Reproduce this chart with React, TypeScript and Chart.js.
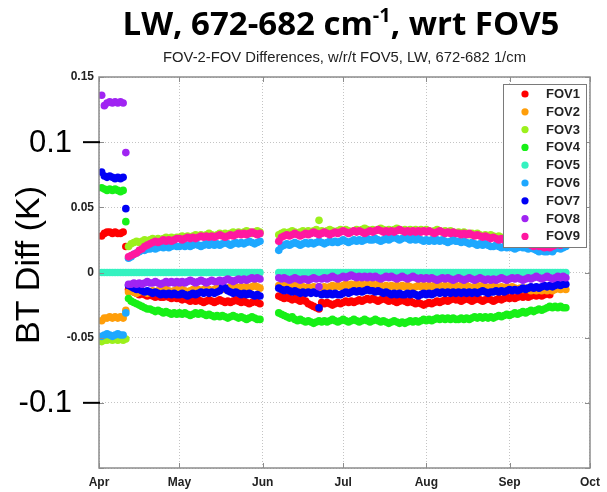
import React, { useEffect, useRef } from "react";
import { Chart, registerables } from "chart.js";

Chart.register(...registerables);

const WIDTH = 607;
const HEIGHT = 492;

// Daily samples, counted in days since 1 April: three contiguous runs, with an outage around 1 June.
const RUN_STARTS = [1, 11, 67];
const RUN_LENGTHS = [10, 50, 108];

const MONTH_TICKS = [0, 30, 61, 91, 122, 153, 183];
const MONTH_LABELS = ["Apr", "May", "Jun", "Jul", "Aug", "Sep", "Oct"];

const Y_TICKS = [-0.15, -0.1, -0.05, 0, 0.05, 0.1, 0.15];
const Y_TICK_LABELS = ["", "", "-0.05", "0", "0.05", "", "0.15"];
const BIG_Y_TICKS = [0.1, -0.1];
const BIG_Y_LABELS = ["0.1", "-0.1"];

const FOV_NAMES = ["FOV1", "FOV2", "FOV3", "FOV4", "FOV5", "FOV6", "FOV7", "FOV8", "FOV9"];
const FOV_COLORS = [
  "#ff0000",
  "#ff9e0a",
  "#9cf01c",
  "#17f017",
  "#35f2c0",
  "#1ea8ff",
  "#0000f5",
  "#a024f2",
  "#ff18a0",
];

// Brightness-temperature differences relative to FOV5, in mK (one value per sample day).
const FOV1_MK = [
  28, 30, 31, 31, 30, 31, 30, 30, 31, 20,
  -13, -14, -15, -16, -17, -16, -17, -18, -17, -18, -19, -18, -19, -19, -18, -19, -20, -19, -20, -20,
  -21, -20, -21, -22, -21, -22, -21, -22, -23, -22, -21, -22, -23, -22, -21, -22, -23, -22, -23, -22,
  -21, -22, -23, -22, -23, -24, -23, -22, -23, -24,
  -18, -19, -20, -19, -20, -21, -20, -21, -22, -21, -22, -24, -25, -26, -27, -28, -23, -24, -23, -24,
  -25, -24, -23, -24, -23, -22, -23, -22, -23, -22, -21, -22, -21, -20, -21, -20, -21, -22, -21, -20,
  -21, -22, -21, -22, -23, -22, -21, -22, -23, -22, -23, -24, -23, -24, -25, -24, -23, -24, -23, -22,
  -23, -22, -21, -22, -21, -20, -21, -21, -22, -21, -20, -21, -22, -21, -20, -21, -22, -21, -20, -21,
  -22, -21, -20, -21, -20, -19, -20, -19, -20, -19, -18, -19, -18, -19, -18, -17, -18, -17, -18, -17,
  -16, -17, null, null, null, null, null, null,
];

const FOV2_MK = [
  -37, -35, -35, -34, -35, -34, -35, -34, -35, -29,
  -15, -14, -15, -16, -15, -14, -15, -16, -15, -14, -15, -14, -15, -14, -13, -14, -15, -14, -13, -14,
  -13, -14, -15, -14, -13, -14, -13, -14, -13, -12, -13, -14, -13, -12, -13, -12, -13, -12, -11, -12,
  -11, -12, -11, -12, -11, -12, -11, -10, -11, -12,
  -10, -11, -10, -11, -12, -11, -10, -11, -12, -11, -12, -11, -12, -11, -12, -11, -12, -11, -12, -11,
  -10, -11, -10, -11, -10, -9, -10, -9, -10, -9, -10, -9, -10, -9, -10, -9, -10, -9, -10, -11,
  -10, -11, -10, -11, -10, -11, -10, -11, -10, -11, -12, -11, -10, -11, -10, -11, -10, -11, -10, -11,
  -10, -11, -10, -11, -10, -11, -10, -11, -10, -11, -10, -11, -12, -11, -10, -11, -10, -11, -12, -11,
  -10, -11, -12, -11, -12, -11, -12, -11, -12, -13, -12, -13, -12, -13, -14, -13, -14, -13, -14, -13,
  -14, -13, -14, -13, -12, -13, -12, -13,
];

const FOV3_MK = [
  -53, -52, -52, -51, -52, -51, -52, -51, -52, -51,
  20, 22, 23, 24, 23, 24, 25, 24, 25, 26, 25, 26, 25, 26, 27, 26, 27, 26, 27, 27,
  28, 27, 28, 27, 28, 29, 28, 29, 28, 29, 30, 29, 28, 29, 30, 29, 30, 29, 30, 31,
  30, 31, 30, 31, 32, 31, 30, 31, 32, 31,
  29, 30, 31, 30, 31, 32, 31, 30, 31, 32, 31, 32, 31, 32, 33, 40, 32, 31, 32, 33,
  32, 31, 32, 33, 32, 33, 32, 31, 32, 33, 32, 33, 34, 33, 32, 33, 32, 33, 34, 33,
  32, 33, 32, 33, 34, 33, 32, 33, 32, 33, 32, 33, 32, 33, 32, 33, 32, 31, 32, 33,
  32, 31, 32, 31, 32, 31, 30, 31, 30, 31, 30, 29, 30, 29, 30, 29, 28, 29, 28, 29,
  28, 27, 28, 27, 26, 27, 26, 25, 26, 25, 24, 25, 24, 23, 24, 23, 22, 23, 22, 21,
  22, 21, 22, 23, 22, 23, 22, 23,
];

const FOV4_MK = [
  65, 64, 63, 64, 63, 64, 63, 62, 63, 39,
  -20, -22, -23, -24, -25, -26, -27, -28, -28, -29, -30, -29, -30, -31, -30, -31, -32, -31, -32, -31,
  -32, -31, -32, -33, -32, -31, -32, -31, -32, -33, -32, -33, -34, -33, -34, -33, -34, -35, -34, -33,
  -34, -35, -34, -35, -36, -35, -34, -35, -36, -36,
  -31, -32, -33, -34, -35, -34, -36, -37, -36, -37, -38, -37, -38, -39, -38, -37, -38, -37, -38, -37,
  -36, -37, -38, -37, -36, -37, -38, -37, -36, -37, -38, -37, -36, -37, -38, -37, -36, -37, -38, -37,
  -38, -39, -38, -37, -38, -39, -38, -39, -38, -37, -38, -37, -38, -37, -36, -37, -36, -37, -36, -35,
  -36, -35, -36, -35, -36, -35, -36, -36, -35, -36, -35, -36, -35, -34, -35, -34, -35, -34, -35, -34,
  -35, -34, -33, -34, -33, -32, -33, -32, -31, -32, -31, -30, -31, -30, -29, -30, -29, -28, -29, -28,
  -27, -26, -27, -26, -27, -26, -27, -27,
];

// FOV5 is the reference, so its difference is zero on every day.
const FOV5_MK = [
  0, 0, 0, 0, 0, 0, 0, 0, 0, 0,
  0, 0, 0, 0, 0, 0, 0, 0, 0, 0, 0, 0, 0, 0, 0, 0, 0, 0, 0, 0,
  0, 0, 0, 0, 0, 0, 0, 0, 0, 0, 0, 0, 0, 0, 0, 0, 0, 0, 0, 0,
  0, 0, 0, 0, 0, 0, 0, 0, 0, 0,
  0, 0, 0, 0, 0, 0, 0, 0, 0, 0, 0, 0, 0, 0, 0, 0, 0, 0, 0, 0,
  0, 0, 0, 0, 0, 0, 0, 0, 0, 0, 0, 0, 0, 0, 0, 0, 0, 0, 0, 0,
  0, 0, 0, 0, 0, 0, 0, 0, 0, 0, 0, 0, 0, 0, 0, 0, 0, 0, 0, 0,
  0, 0, 0, 0, 0, 0, 0, 0, 0, 0, 0, 0, 0, 0, 0, 0, 0, 0, 0, 0,
  0, 0, 0, 0, 0, 0, 0, 0, 0, 0, 0, 0, 0, 0, 0, 0, 0, 0, 0, 0,
  0, 0, 0, 0, 0, 0, 0, 0,
];

const FOV6_MK = [
  -49, -48, -47, -48, -49, -48, -47, -48, -48, -31,
  11, 12, 14, 15, 16, 17, 17, 18, 18, 19, 18, 19, 20, 19, 20, 19, 20, 21, 20, 20,
  21, 20, 21, 20, 21, 22, 21, 20, 21, 22, 21, 22, 21, 22, 21, 22, 23, 22, 21, 22,
  23, 22, 23, 22, 23, 24, 23, 22, 23, 24,
  17, 20, 21, 22, 21, 22, 23, 22, 21, 22, 23, 22, 23, 22, 23, 24, 23, 22, 23, 24,
  23, 24, 23, 24, 25, 24, 23, 24, 25, 24, 25, 24, 25, 26, 25, 25, 26, 25, 24, 25,
  26, 25, 26, 27, 26, 25, 26, 27, 26, 25, 26, 25, 26, 25, 24, 25, 24, 25, 24, 25,
  24, 25, 24, 23, 24, 25, 24, 24, 23, 24, 23, 22, 23, 22, 21, 22, 21, 22, 21, 20,
  20, 21, 20, 19, 20, 19, 20, 19, 18, 19, 20, 19, 19, 18, 19, 18, 17, 16, 17, 16,
  16, 17, 16, 18, 19, 18, 19, 20,
];

const FOV7_MK = [
  77, 74, 73, 74, 73, 72, 73, 72, 73, 49,
  -10, -11, -12, -13, -13, -14, -15, -14, -15, -16, -15, -16, -17, -16, -17, -16, -17, -16, -17, -17,
  -16, -17, -18, -17, -16, -17, -16, -15, -16, -15, -16, -15, -16, -15, -14, -11, -12, -14, -15, -16,
  -15, -16, -17, -16, -17, -16, -17, -18, -17, -18,
  -12, -13, -14, -13, -14, -15, -14, -15, -16, -15, -16, -15, -16, -15, -16, -27, -17, -16, -17, -16,
  -17, -16, -17, -17, -16, -15, -16, -15, -14, -15, -14, -15, -14, -13, -14, -14, -15, -14, -15, -16,
  -15, -16, -17, -16, -17, -16, -17, -17, -16, -17, -16, -17, -18, -17, -16, -17, -16, -17, -16, -15,
  -16, -15, -16, -15, -16, -15, -16, -15, -16, -15, -16, -15, -16, -15, -16, -15, -14, -15, -16, -15,
  -15, -14, -15, -14, -15, -14, -13, -14, -13, -14, -13, -12, -13, -12, -11, -12, -11, -12, -11, -10,
  -11, -10, -11, -10, -9, -10, -9, -9,
];

const FOV8_MK = [
  136, 128, 130, 131, 130, 131, 130, 131, 130, 92,
  -9, -9, -8, -9, -8, -9, -8, -7, -8, -8, -7, -8, -9, -8, -7, -8, -7, -8, -7, -8,
  -7, -8, -7, -6, -7, -8, -7, -6, -7, -8, -7, -6, -7, -7, -6, -7, -6, -5, -6, -7,
  -6, -5, -6, -5, -6, -5, -4, -5, -4, -5,
  -4, -5, -4, -5, -6, -5, -4, -5, -6, -5, -5, -6, -5, -4, -5, -11, -5, -4, -5, -4,
  -3, -4, -5, -4, -3, -4, -3, -2, -3, -4, -3, -4, -3, -4, -3, -4, -3, -4, -5, -4,
  -3, -4, -3, -4, -5, -4, -3, -4, -5, -4, -3, -4, -5, -4, -5, -4, -5, -4, -5, -6,
  -5, -4, -5, -4, -5, -6, -5, -4, -5, -6, -5, -4, -5, -6, -5, -4, -5, -6, -5, -6,
  -5, -6, -5, -4, -5, -6, -5, -4, -5, -4, -5, -6, -5, -4, -5, -4, -3, -4, -5, -4,
  -3, -4, -5, -4, -3, -4, -3, -4,
];

const FOV9_MK = [
  null, null, null, null, null, null, null, null, null, null,
  12, 13, 14, 15, 17, 18, 20, 21, 22, 23, 24, 23, 24, 25, 24, 25, 24, 25, 26, 26,
  25, 26, 27, 26, 27, 26, 27, 28, 27, 28, 27, 28, 27, 28, 29, 28, 27, 28, 29, 28,
  29, 30, 29, 30, 29, 30, 31, 30, 29, 30,
  24, 27, 28, 29, 28, 29, 30, 29, 28, 29, 30, 29, 30, 31, 30, 29, 30, 31, 30, 29,
  30, 31, 30, 31, 32, 31, 30, 31, 32, 31, 32, 31, 30, 31, 32, 31, 32, 33, 32, 31,
  32, 31, 32, 31, 32, 33, 32, 31, 32, 31, 32, 31, 32, 31, 32, 31, 32, 31, 30, 31,
  32, 31, 30, 31, 30, 31, 30, 30, 29, 30, 29, 30, 29, 28, 29, 28, 27, 28, 27, 26,
  27, 26, 25, 26, 25, 24, 25, 24, 23, 24, 23, 22, 23, 22, 21, 20, 21, 20, 20, 19,
  20, 19, 20, 21, 22, 21, 22, 23,
];

const FOV_SERIES_MK = [FOV1_MK, FOV2_MK, FOV3_MK, FOV4_MK, FOV5_MK, FOV6_MK, FOV7_MK, FOV8_MK, FOV9_MK];

const DAYS: number[] = RUN_STARTS.flatMap((start, k) =>
  Array.from({ length: RUN_LENGTHS[k] }, (_, i) => start + i)
);

const TITLE_MAIN = "LW, 672-682 cm";
const TITLE_SUP = "-1";
const TITLE_TAIL = ", wrt FOV5";
const SUBTITLE = "FOV-2-FOV Differences, w/r/t FOV5, LW, 672-682 1/cm";
const Y_LABEL = "BT Diff (K)";

const AXIS_GREY = "#8c8c8c";
const TEXT_DARK = "#222222";
const POINT_RADIUS = 3.8;

const decorPlugin = {
  id: "fovDecor",
  afterDraw(chart: any) {
    const { ctx, chartArea: a, scales } = chart;
    const xs = scales.x;
    const ys = scales.y;
    ctx.save();

    // axes box
    ctx.strokeStyle = AXIS_GREY;
    ctx.lineWidth = 1.5;
    ctx.strokeRect(a.left, a.top, a.right - a.left, a.bottom - a.top);

    // inward tick marks on all four sides
    ctx.lineWidth = 1;
    ctx.beginPath();
    Y_TICKS.forEach((v) => {
      const y = Math.round(ys.getPixelForValue(v)) + 0.5;
      ctx.moveTo(a.left, y);
      ctx.lineTo(a.left + 5, y);
      ctx.moveTo(a.right, y);
      ctx.lineTo(a.right - 5, y);
    });
    MONTH_TICKS.forEach((v) => {
      const x = Math.round(xs.getPixelForValue(v)) + 0.5;
      ctx.moveTo(x, a.bottom);
      ctx.lineTo(x, a.bottom - 5);
      ctx.moveTo(x, a.top);
      ctx.lineTo(x, a.top + 5);
    });
    ctx.stroke();

    // legend box in the upper right of the plot
    const lw = 83;
    const lh = 163;
    const lx = a.right - 4 - lw;
    const ly = a.top + 7;
    ctx.fillStyle = "#ffffff";
    ctx.fillRect(lx, ly, lw, lh);
    ctx.strokeStyle = "#7a7a7a";
    ctx.lineWidth = 1;
    ctx.strokeRect(lx + 0.5, ly + 0.5, lw, lh);
    ctx.font = "bold 13px 'Liberation Sans', Arial, sans-serif";
    ctx.textBaseline = "middle";
    ctx.textAlign = "left";
    FOV_NAMES.forEach((name, i) => {
      const y = ly + 10 + i * 17.8;
      ctx.fillStyle = FOV_COLORS[i];
      ctx.beginPath();
      ctx.arc(lx + 22, y, 3.6, 0, Math.PI * 2);
      ctx.fill();
      ctx.fillStyle = TEXT_DARK;
      ctx.fillText(name, lx + 43, y + 0.5);
    });

    // main title with superscript
    const cx = 341;
    const titleFont = "bold 33px 'Open Sans', Lato, sans-serif";
    const supFont = "bold 20px 'Open Sans', Lato, sans-serif";
    ctx.textBaseline = "alphabetic";
    ctx.fillStyle = "#000000";
    ctx.font = titleFont;
    const w1 = ctx.measureText(TITLE_MAIN).width;
    const w3 = ctx.measureText(TITLE_TAIL).width;
    ctx.font = supFont;
    const w2 = ctx.measureText(TITLE_SUP).width;
    let tx = cx - (w1 + w2 + w3) / 2;
    const base = 35;
    ctx.font = titleFont;
    ctx.fillText(TITLE_MAIN, tx, base);
    tx += w1;
    ctx.font = supFont;
    ctx.fillText(TITLE_SUP, tx, base - 13);
    tx += w2;
    ctx.font = titleFont;
    ctx.fillText(TITLE_TAIL, tx, base);

    // subtitle
    ctx.font = "14.8px 'Liberation Sans', Arial, sans-serif";
    ctx.fillStyle = TEXT_DARK;
    ctx.textAlign = "center";
    ctx.fillText(SUBTITLE, (a.left + a.right) / 2, 62);

    // large y-axis labels with their own tick dashes
    ctx.fillStyle = "#000000";
    ctx.strokeStyle = "#000000";
    ctx.lineWidth = 2;
    ctx.font = "31px 'Liberation Sans', Arial, sans-serif";
    ctx.textAlign = "right";
    ctx.textBaseline = "middle";
    BIG_Y_TICKS.forEach((v, i) => {
      const y = ys.getPixelForValue(v);
      ctx.fillText(BIG_Y_LABELS[i], 72, y + 1);
      ctx.beginPath();
      ctx.moveTo(83, y);
      ctx.lineTo(a.left + 1, y);
      ctx.stroke();
    });

    // y-axis title
    ctx.save();
    ctx.translate(30, 265);
    ctx.rotate(-Math.PI / 2);
    ctx.textAlign = "center";
    ctx.textBaseline = "middle";
    ctx.font = "34px 'Liberation Sans', Arial, sans-serif";
    ctx.fillText(Y_LABEL, 0, 0);
    ctx.restore();

    ctx.restore();
  },
};

export default function App() {
  const canvasRef = useRef<HTMLCanvasElement | null>(null);

  useEffect(() => {
    const canvas = canvasRef.current;
    if (!canvas) return;

    const datasets = FOV_SERIES_MK.map((series, i) => ({
      label: FOV_NAMES[i],
      data: DAYS.map((d, j) => (series[j] == null ? null : { x: d, y: (series[j] as number) / 1000 })).filter(
        (p) => p !== null
      ),
      backgroundColor: FOV_COLORS[i],
      borderWidth: 0,
      pointRadius: POINT_RADIUS,
      pointHoverRadius: POINT_RADIUS,
      showLine: false,
      order: FOV_NAMES.length - 1 - i,
    }));

    const tickFont = { family: "'Liberation Sans', Arial, sans-serif", size: 12, weight: "bold" as const };

    const chart = new Chart(canvas, {
      type: "scatter",
      data: { datasets: datasets as any },
      options: {
        animation: false,
        responsive: false,
        maintainAspectRatio: false,
        devicePixelRatio: 1,
        layout: { padding: { top: 77, right: 12, bottom: 0, left: 0 } },
        plugins: {
          legend: { display: false },
          title: { display: false },
          tooltip: { enabled: false },
        },
        events: [],
        scales: {
          x: {
            type: "linear",
            min: MONTH_TICKS[0],
            max: MONTH_TICKS[MONTH_TICKS.length - 1],
            afterBuildTicks: (scale: any) => {
              scale.ticks = MONTH_TICKS.map((v) => ({ value: v }));
            },
            afterFit: (scale: any) => {
              scale.height = 24;
            },
            ticks: {
              autoSkip: false,
              maxRotation: 0,
              padding: 7,
              color: TEXT_DARK,
              font: tickFont,
              callback: (_v: any, i: number) => MONTH_LABELS[i],
            },
            grid: { color: "#c4c4c4", lineWidth: 1, drawTicks: false },
            border: { display: false, dash: [1, 2] },
          },
          y: {
            type: "linear",
            min: Y_TICKS[0],
            max: Y_TICKS[Y_TICKS.length - 1],
            afterBuildTicks: (scale: any) => {
              scale.ticks = Y_TICKS.map((v) => ({ value: v }));
            },
            afterFit: (scale: any) => {
              scale.width = 99;
            },
            ticks: {
              autoSkip: false,
              padding: 5,
              color: TEXT_DARK,
              font: tickFont,
              callback: (_v: any, i: number) => Y_TICK_LABELS[i],
            },
            grid: { color: "#c4c4c4", lineWidth: 1, drawTicks: false },
            border: { display: false, dash: [1, 2] },
          },
        },
      },
      plugins: [decorPlugin],
    });

    return () => chart.destroy();
  }, []);

  return (
    <div style={{ position: "fixed", left: 0, top: 0, width: WIDTH, height: HEIGHT, background: "#ffffff" }}>
      <canvas ref={canvasRef} width={WIDTH} height={HEIGHT} style={{ width: WIDTH, height: HEIGHT, display: "block" }} />
    </div>
  );
}
